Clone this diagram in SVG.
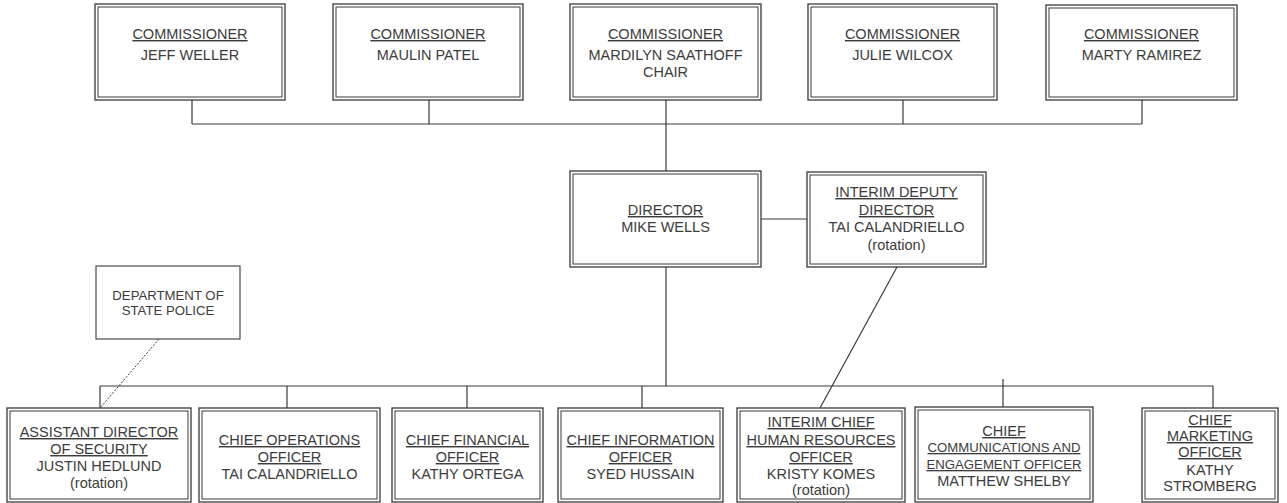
<svg xmlns="http://www.w3.org/2000/svg" width="1287" height="503" viewBox="0 0 1287 503">
<style>
.o{fill:#fff;stroke:#3a3a3a;stroke-width:1.3}
.i{fill:none;stroke:#3a3a3a;stroke-width:1}
.s{fill:#fff;stroke:#3a3a3a;stroke-width:1.1}
text{font-family:"Liberation Sans",Arial,sans-serif;font-size:14.5px;fill:#3c3c3c;text-anchor:middle}
.u{text-decoration:underline}
.sm{font-size:13.2px}
.c{fill:none;stroke:#3a3a3a;stroke-width:1.2}
</style>
<rect width="1287" height="503" fill="#fff"/>
<g id="connectors" class="c">
<path d="M192 100V124M429 100V124M666 100V171M903 100V124M1142 100V124M192 124H1142"/>
<path d="M761 219H807"/>
<path d="M666 267V386M100 386H1213M100 386V408M287 386V408M467 386V408M642 386V408M1003 379V408M1213 386V408"/>
<path d="M897 267L820 408"/>
<path d="M159 339L100 408" stroke-dasharray="2 1.5" stroke-width="1"/>
</g>
<g id="c1"><rect class="o" x="95" y="4" width="190" height="96"/><rect class="i" x="98" y="7" width="184" height="90"/><text x="190" y="39" class="u">COMMISSIONER</text><text x="190" y="60">JEFF WELLER</text></g>
<g id="c2"><rect class="o" x="333" y="4" width="190" height="96"/><rect class="i" x="336" y="7" width="184" height="90"/><text x="428" y="39" class="u">COMMISSIONER</text><text x="428" y="60">MAULIN PATEL</text></g>
<g id="c3"><rect class="o" x="570" y="4" width="191" height="96"/><rect class="i" x="573" y="7" width="185" height="90"/><text x="665.5" y="39" class="u">COMMISSIONER</text><text x="665.5" y="60">MARDILYN SAATHOFF</text><text x="665.5" y="77">CHAIR</text></g>
<g id="c4"><rect class="o" x="808" y="4" width="189" height="96"/><rect class="i" x="811" y="7" width="183" height="90"/><text x="902.5" y="39" class="u">COMMISSIONER</text><text x="902.5" y="60">JULIE WILCOX</text></g>
<g id="c5"><rect class="o" x="1046" y="5" width="191" height="95"/><rect class="i" x="1049" y="8" width="185" height="89"/><text x="1141.5" y="39" class="u">COMMISSIONER</text><text x="1141.5" y="60">MARTY RAMIREZ</text></g>
<g id="director"><rect class="o" x="570" y="171" width="191" height="96"/><rect class="i" x="573" y="174" width="185" height="90"/><text x="665.5" y="215" class="u">DIRECTOR</text><text x="665.5" y="232">MIKE WELLS</text></g>
<g id="deputy"><rect class="o" x="807" y="172" width="179" height="95"/><rect class="i" x="810" y="175" width="173" height="89"/><text x="896.5" y="197" class="u">INTERIM DEPUTY</text><text x="896.5" y="215" class="u">DIRECTOR</text><text x="896.5" y="232">TAI CALANDRIELLO</text><text x="896.5" y="250">(rotation)</text></g>
<g id="police"><rect class="s" x="96" y="266" width="144" height="73"/><text x="168" y="300" class="sm">DEPARTMENT OF</text><text x="168" y="315" class="sm">STATE POLICE</text></g>
<g id="security"><rect class="o" x="7" y="408" width="184" height="94"/><rect class="i" x="10" y="411" width="178" height="88"/><text x="99" y="437" class="u">ASSISTANT DIRECTOR</text><text x="99" y="454" class="u">OF SECURITY</text><text x="99" y="471">JUSTIN HEDLUND</text><text x="99" y="488">(rotation)</text></g>
<g id="coo"><rect class="o" x="199" y="408" width="181" height="94"/><rect class="i" x="202" y="411" width="175" height="88"/><text x="289.5" y="445" class="u">CHIEF OPERATIONS</text><text x="289.5" y="462" class="u">OFFICER</text><text x="289.5" y="479">TAI CALANDRIELLO</text></g>
<g id="cfo"><rect class="o" x="392" y="408" width="151" height="94"/><rect class="i" x="395" y="411" width="145" height="88"/><text x="467.5" y="445" class="u">CHIEF FINANCIAL</text><text x="467.5" y="462" class="u">OFFICER</text><text x="467.5" y="479">KATHY ORTEGA</text></g>
<g id="cio"><rect class="o" x="558" y="408" width="165" height="94"/><rect class="i" x="561" y="411" width="159" height="88"/><text x="640.5" y="445" class="u">CHIEF INFORMATION</text><text x="640.5" y="462" class="u">OFFICER</text><text x="640.5" y="479">SYED HUSSAIN</text></g>
<g id="chro"><rect class="o" x="737" y="408" width="168" height="94"/><rect class="i" x="740" y="411" width="162" height="88"/><text x="821" y="427" class="u">INTERIM CHIEF</text><text x="821" y="445" class="u">HUMAN RESOURCES</text><text x="821" y="462" class="u">OFFICER</text><text x="821" y="479">KRISTY KOMES</text><text x="821" y="495">(rotation)</text></g>
<g id="comms"><rect class="o" x="915" y="407" width="178" height="95"/><rect class="i" x="918" y="410" width="172" height="89"/><text x="1004" y="436" class="u">CHIEF</text><text x="1004" y="452" class="u sm">COMMUNICATIONS AND</text><text x="1004" y="469" class="u sm">ENGAGEMENT OFFICER</text><text x="1004" y="486">MATTHEW SHELBY</text></g>
<g id="cmo"><rect class="o" x="1142" y="408" width="136" height="94"/><rect class="i" x="1145" y="411" width="130" height="88"/><text x="1210" y="425" class="u">CHIEF</text><text x="1210" y="441" class="u">MARKETING</text><text x="1210" y="457" class="u">OFFICER</text><text x="1210" y="475">KATHY</text><text x="1210" y="491">STROMBERG</text></g>
</svg>
